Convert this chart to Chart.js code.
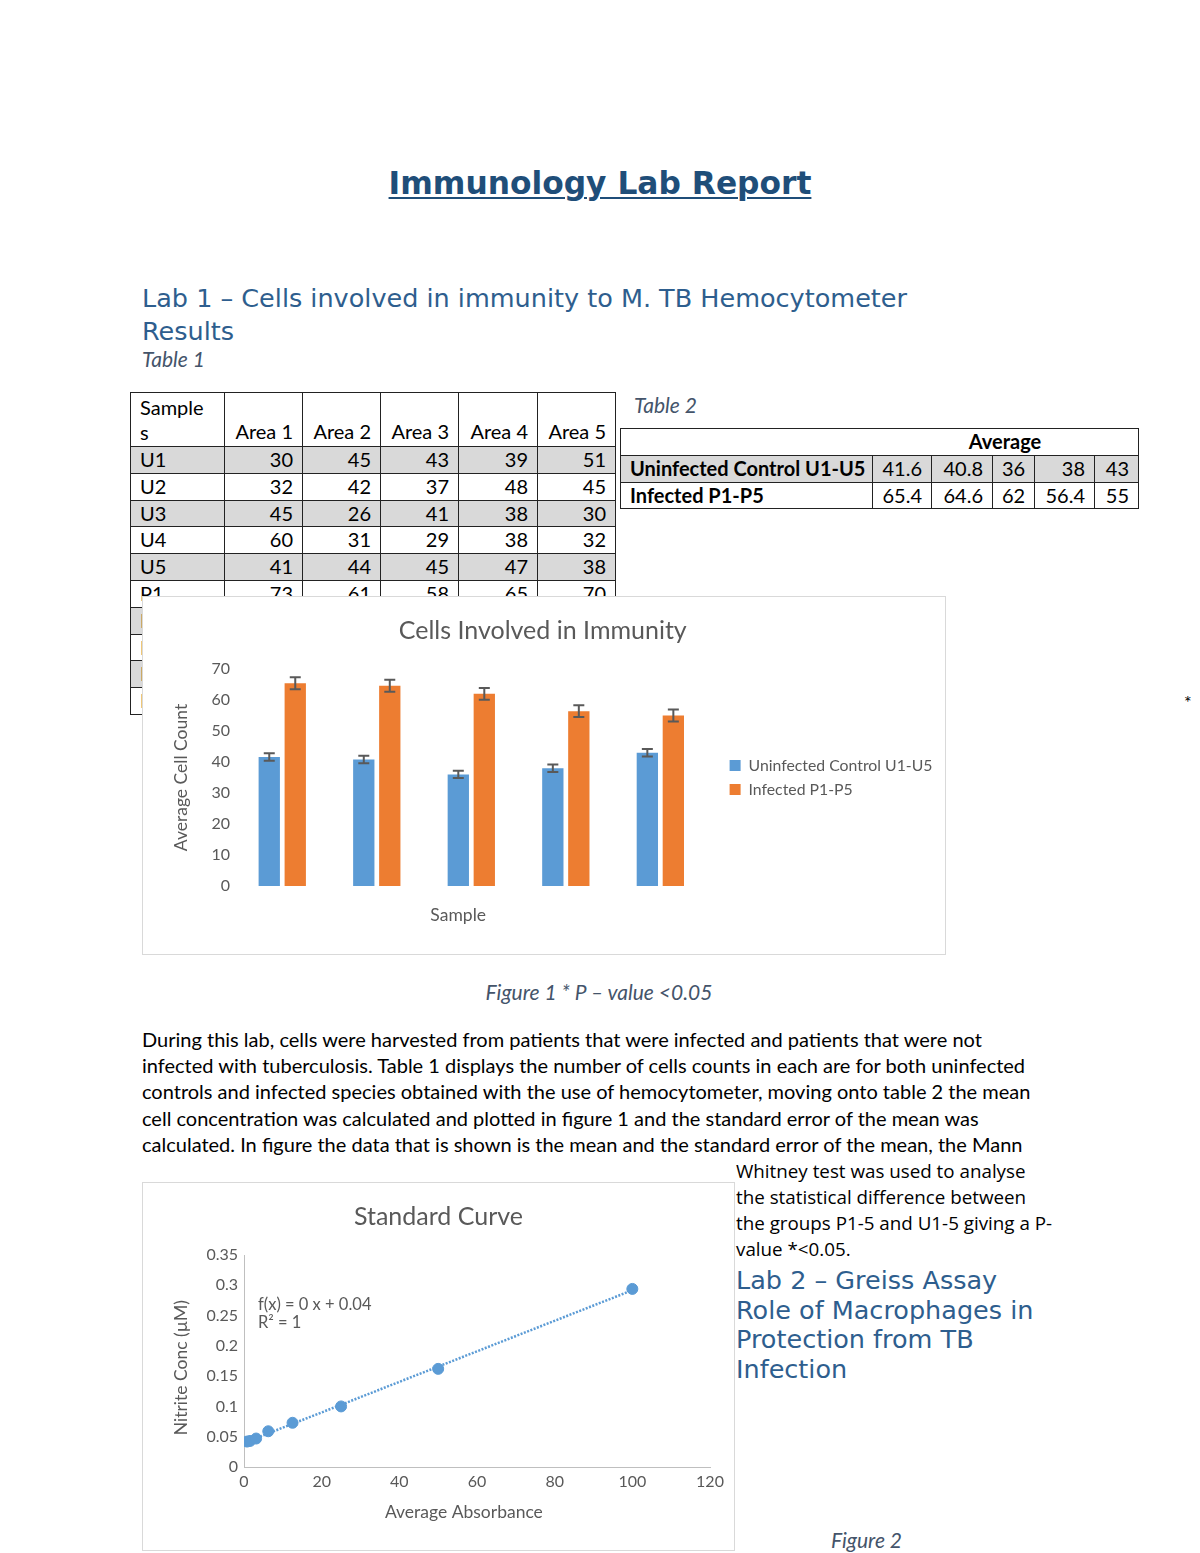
<!DOCTYPE html>
<html>
<head>
<meta charset="utf-8">
<script src="https://cdn.jsdelivr.net/npm/chart.js@4.4.1/dist/chart.umd.min.js"></script>
<style>
body { margin:0; width:1200px; height:1553px; overflow:hidden; background:#fff; position:relative; font-family:Lato, "Open Sans", sans-serif; color:#000; }
.abs { position:absolute; white-space:nowrap; }
.body { font-size:20px; line-height:26px; }
.side { font-family:"Open Sans", Lato, sans-serif; font-size:18.8px; line-height:26px; }
.cap { font-style:italic; color:#44546A; font-size:21px; line-height:24px; }
.head { font-family:"DejaVu Sans", sans-serif; color:#2E5E8E; font-size:25.5px; }
table { position:absolute; border-collapse:collapse; table-layout:fixed; font-size:20px; }
td { border:1.5px solid #222; padding:0 9px; line-height:25.8px; height:25.8px; white-space:nowrap; overflow:hidden; }
td.num { text-align:right; }
tr.gray td { background:#D9D9D9; }
.box { position:absolute; background:#fff; border:1px solid #D9D9D9; box-sizing:border-box; }
.box canvas { position:absolute; left:0; top:0; }
</style>
</head>
<body>

<div class="abs" style="left:0; width:1200px; top:165px; text-align:center; font-family:'DejaVu Sans'; font-weight:bold; font-size:31.3px; line-height:36px; color:#1F4E79; text-decoration:underline; text-decoration-thickness:2px; text-underline-offset:3px;">Immunology Lab Report</div>

<div class="abs head" style="left:142px; top:282px; line-height:33px;">Lab 1 – Cells involved in immunity to M. TB Hemocytometer<br>Results</div>
<div class="abs cap" style="left:142px; top:347px;">Table 1</div>
<div class="abs cap" style="left:634px; top:393px;">Table 2</div>

<table id="table1" style="left:130px; top:392px; width:485px;">
  <colgroup><col style="width:94px"><col style="width:78px"><col style="width:78px"><col style="width:78px"><col style="width:79px"><col style="width:78px"></colgroup>
</table>

<table id="table2" style="left:620px; top:428px; width:518px;">
  <colgroup><col style="width:252px"><col style="width:59px"><col style="width:61px"><col style="width:42px"><col style="width:60px"><col style="width:44px"></colgroup>
</table>

<div class="abs" style="left:1184px; top:690px; font-size:18px; line-height:24px;">*</div>

<div class="box" style="left:142px; top:596px; width:804px; height:359px;">
  <canvas id="chart1" width="802" height="357"></canvas>
</div>

<div class="abs cap" style="left:0; width:1198px; text-align:center; top:980px;">Figure 1 * P – value &lt;0.05</div>

<div class="abs body" style="left:142px; top:1026px;">During this lab, cells were harvested from patients that were infected and patients that were not</div>
<div class="abs body" style="left:142px; top:1052px;">infected with tuberculosis. Table 1 displays the number of cells counts in each are for both uninfected</div>
<div class="abs body" style="left:142px; top:1078px;">controls and infected species obtained with the use of hemocytometer, moving onto table 2 the mean</div>
<div class="abs body" style="left:142px; top:1105px;">cell concentration was calculated and plotted in figure 1 and the standard error of the mean was</div>
<div class="abs body" style="left:142px; top:1131px;">calculated. In figure the data that is shown is the mean and the standard error of the mean, the Mann</div>
<div class="abs side" style="left:736px; top:1158px;">Whitney test was used to analyse</div>
<div class="abs side" style="left:736px; top:1184px;">the statistical difference between</div>
<div class="abs side" style="left:736px; top:1210px;">the groups P1-5 and U1-5 giving a P-</div>
<div class="abs side" style="left:736px; top:1236px;">value *&lt;0.05.</div>

<div class="abs head" style="left:736px; top:1266px; line-height:29.5px;">Lab 2 – Greiss Assay<br>Role of Macrophages in<br>Protection from TB<br>Infection</div>

<div class="box" style="left:142px; top:1182px; width:593px; height:369px;">
  <canvas id="chart2" width="591" height="367"></canvas>
</div>
<div class="abs" style="left:258px; top:1296px; font-size:16.5px; line-height:17.5px; color:#595959;">f(x) = 0 x + 0.04<br>R² = 1</div>

<div class="abs cap" style="left:831px; top:1528px;">Figure 2</div>

<script>
// table 1 - hemocytometer counts
const t1Samples = ["U1", "U2", "U3", "U4", "U5", "P1", "P2", "P3", "P4", "P5"];
const t1Areas = ["Area 1", "Area 2", "Area 3", "Area 4", "Area 5"];
const t1Counts = [
    [30, 45, 43, 39, 51],
    [32, 42, 37, 48, 45],
    [45, 26, 41, 38, 30],
    [60, 31, 29, 38, 32],
    [41, 44, 45, 47, 38],
    [73, 61, 58, 65, 70],
    [], [], [], []
];

// table 2 / figure 1 - averages
const groups = ["Uninfected Control U1-U5", "Infected P1-P5"];
const sampleLabels = ["1", "2", "3", "4", "5"];
const uninfected = [41.6, 40.8, 36, 38, 43];
const infected = [65.4, 64.6, 62, 56.4, 55];
const uninfectedErr = [1.2, 1.2, 1.2, 1.2, 1.2];
const infectedErr = [1.9, 1.9, 1.9, 1.9, 1.9];

// figure 2 - standard curve
const absorbance = [0.78, 1.56, 3.125, 6.25, 12.5, 25, 50, 100];
const nitrite = [0.042, 0.043, 0.047, 0.059, 0.073, 0.1, 0.162, 0.294];

const FONT = "Lato";
const GREY = "#595959";
// en spaces, Excel centres the axis titles a little off the plot centre
const NUDGE = "\u2002\u2002\u2002";

function buildTable1() {
    const t = document.getElementById("table1");
    let html = '<tr style="height:54px"><td style="vertical-align:bottom;line-height:25px;padding-bottom:1px">Sample<br>s</td>';
    t1Areas.forEach(a => html += '<td class="num" style="vertical-align:bottom;padding-bottom:1px">' + a + '</td>');
    html += '</tr>';
    t1Samples.forEach((s, i) => {
        html += '<tr class="' + (i % 2 === 0 ? 'gray' : '') + '"><td>' + s + '</td>';
        for (let j = 0; j < 5; j++)
            html += '<td class="num">' + (t1Counts[i][j] !== undefined ? t1Counts[i][j] : '') + '</td>';
        html += '</tr>';
    });
    t.insertAdjacentHTML("beforeend", html);
}

function buildTable2() {
    const t = document.getElementById("table2");
    let html = '<tr><td colspan="6" style="text-align:center;padding-left:260px;font-weight:bold">Average</td></tr>';
    [uninfected, infected].forEach((row, i) => {
        html += '<tr class="' + (i === 0 ? 'gray' : '') + '"><td style="font-weight:bold">' + groups[i] + '</td>';
        row.forEach(v => html += '<td class="num" style="padding-right:9px">' + v + '</td>');
        html += '</tr>';
    });
    t.insertAdjacentHTML("beforeend", html);
}

buildTable1();
buildTable2();

// draws the +/- error bars on top of each bar
const errorBars = {
    id: "errorBars",
    afterDatasetsDraw(chart) {
        const ctx = chart.ctx;
        const y = chart.scales.y;
        chart.data.datasets.forEach((ds, i) => {
            if (!ds.errors) return;
            chart.getDatasetMeta(i).data.forEach((bar, j) => {
                const top = y.getPixelForValue(ds.data[j] + ds.errors[j]);
                const bot = y.getPixelForValue(ds.data[j] - ds.errors[j]);
                ctx.save();
                ctx.strokeStyle = GREY;
                ctx.lineWidth = 2;
                ctx.beginPath();
                ctx.moveTo(bar.x, top); ctx.lineTo(bar.x, bot);
                ctx.moveTo(bar.x - 5.5, top); ctx.lineTo(bar.x + 5.5, top);
                ctx.moveTo(bar.x - 5.5, bot); ctx.lineTo(bar.x + 5.5, bot);
                ctx.stroke();
                ctx.restore();
            });
        });
    }
};

const noGrid = {display: false, drawTicks: false};

new Chart(document.getElementById("chart1"), {
    type: "bar",
    data: {
        labels: sampleLabels,
        datasets: [
            {label: groups[0], data: uninfected, errors: uninfectedErr, backgroundColor: "#5B9BD5"},
            {label: groups[1], data: infected, errors: infectedErr, backgroundColor: "#ED7D31"}
        ]
    },
    options: {
        responsive: false,
        animation: false,
        layout: {padding: {left: 0, right: 2.5, top: 0, bottom: 28.5}},
        datasets: {bar: {categoryPercentage: 0.55, barPercentage: 0.82}},
        plugins: {
            title: {display: true, text: "Cells Involved in Immunity", color: GREY,
                font: {family: FONT, size: 25, weight: "normal"}, padding: {top: 19, bottom: 23}},
            legend: {position: "right", fullSize: false, maxWidth: 260,
                labels: {boxWidth: 11, boxHeight: 11, padding: 8, color: GREY, font: {family: FONT, size: 15.8}}},
            tooltip: {enabled: false}
        },
        scales: {
            x: {
                grid: noGrid, border: {display: false}, ticks: {display: false},
                title: {display: true, text: "Sample" + NUDGE, color: GREY, font: {family: FONT, size: 17.5}, padding: {top: 18.5, bottom: 0}}
            },
            y: {
                min: 0, max: 70,
                grid: noGrid, border: {display: false},
                ticks: {stepSize: 10, padding: 5, color: GREY, font: {family: FONT, size: 16}},
                title: {display: true, text: "Average Cell Count", color: GREY, font: {family: FONT, size: 17.5}, padding: {top: 27.5, bottom: 0}},
                afterFit: s => { s.width = 92; }
            },
            gap: {
                position: "right", grid: noGrid, border: {display: false}, ticks: {display: false},
                afterFit: s => { s.width = 14; }
            }
        }
    },
    plugins: [errorBars]
});

// least squares trendline through the standard curve
function linearFit(xs, ys) {
    const n = xs.length;
    const mx = xs.reduce((a, b) => a + b, 0) / n;
    const my = ys.reduce((a, b) => a + b, 0) / n;
    let sxy = 0, sxx = 0;
    for (let i = 0; i < n; i++) {
        sxy += (xs[i] - mx) * (ys[i] - my);
        sxx += (xs[i] - mx) * (xs[i] - mx);
    }
    const slope = sxy / sxx;
    return {slope: slope, intercept: my - slope * mx};
}

const fit = linearFit(absorbance, nitrite);
const xMin = Math.min(...absorbance), xMax = Math.max(...absorbance);

new Chart(document.getElementById("chart2"), {
    type: "scatter",
    data: {
        datasets: [
            {
                label: "Nitrite",
                data: absorbance.map((x, i) => ({x: x, y: nitrite[i]})),
                backgroundColor: "#5B9BD5", borderColor: "#5B9BD5", pointRadius: 5.5, order: 0
            },
            {
                type: "line", label: "Trend",
                data: [{x: xMin, y: fit.intercept + fit.slope * xMin}, {x: xMax, y: fit.intercept + fit.slope * xMax}],
                borderColor: "#5B9BD5", borderWidth: 2.5, borderDash: [2, 1.5], pointRadius: 0, fill: false, order: 1
            }
        ]
    },
    options: {
        responsive: false,
        animation: false,
        layout: {padding: {left: 0, right: 0, top: 0, bottom: 27.5}},
        plugins: {
            title: {display: true, text: "Standard Curve", color: GREY,
                font: {family: FONT, size: 25, weight: "normal"}, padding: {top: 19, bottom: 23}},
            legend: {display: false},
            tooltip: {enabled: false}
        },
        scales: {
            x: {
                type: "linear", min: 0, max: 120,
                grid: noGrid, border: {display: true, color: "#BFBFBF", width: 1},
                ticks: {stepSize: 20, padding: 5.4, color: GREY, font: {family: FONT, size: 16}},
                title: {display: true, text: "Average Absorbance" + NUDGE, color: GREY, font: {family: FONT, size: 17.5}, padding: {top: 4.5, bottom: 0}},
                afterFit: s => { s.paddingLeft = 0; s.paddingRight = 0; }
            },
            y: {
                min: 0, max: 0.35,
                grid: noGrid, border: {display: true, color: "#BFBFBF", width: 1},
                ticks: {stepSize: 0.05, padding: 6, color: GREY, font: {family: FONT, size: 16},
                    callback: v => String(+v.toFixed(2))},
                title: {display: true, text: "Nitrite Conc (µM)\u2002 ", color: GREY, font: {family: FONT, size: 17.5}, padding: {top: 27.5, bottom: 0}},
                afterFit: s => { s.width = 101; }
            },
            gap: {
                position: "right", grid: noGrid, border: {display: false}, ticks: {display: false},
                afterFit: s => { s.width = 24; }
            }
        }
    }
});
</script>
</body>
</html>
